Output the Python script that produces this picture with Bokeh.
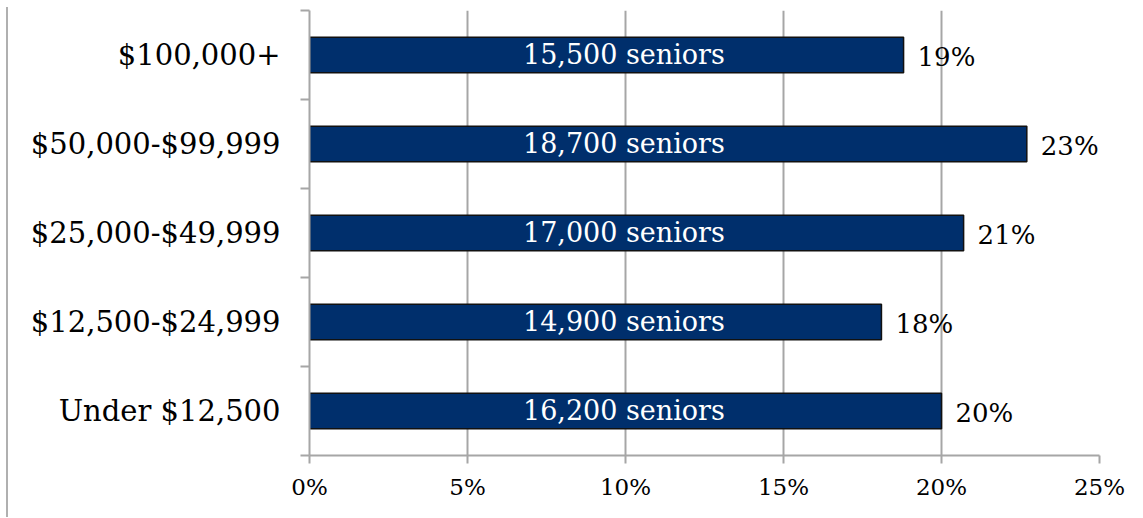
from bokeh.plotting import figure
from bokeh.models import ColumnDataSource, FixedTicker, NumeralTickFormatter, Range1d
from bokeh.embed import file_html
from bokeh.resources import INLINE
from bokeh.core.properties import value

# Data (bottom to top)
categories = ["Under $12,500", "$12,500-$24,999", "$25,000-$49,999", "$50,000-$99,999", "$100,000+"]
shares = [0.200, 0.181, 0.207, 0.227, 0.188]
pct_labels = ["20%", "18%", "21%", "23%", "19%"]
senior_labels = ["16,200 seniors", "14,900 seniors", "17,000 seniors", "18,700 seniors", "15,500 seniors"]
x_ticks = [0, 0.05, 0.10, 0.15, 0.20, 0.25]

FONT = "DejaVu Serif"
GRID = "#a6a6a6"

ypos = list(range(len(categories)))
src = ColumnDataSource(dict(y=ypos, share=shares, pct=pct_labels, sen=senior_labels,
                            mid=[0.0995] * len(categories)))

p = figure(width=1133, height=510, output_backend="svg", toolbar_location=None,
           x_range=Range1d(0, 0.25), y_range=Range1d(-0.5, len(categories) - 0.5),
           min_border_left=301, min_border_right=42, min_border_top=3, min_border_bottom=62)
p.styles = {"border-left": "2px solid #b0b0b0", "margin-left": "6px", "margin-top": "7px"}
p.outline_line_color = None
p.background_fill_color = "white"
p.border_fill_color = "white"

p.hbar(y="y", right="share", left=0, height=0.4, source=src,
       fill_color="#002F6C", line_color="#111111", line_width=1.5)

p.text(x="mid", y="y", text="sen", source=src, text_align="center", text_baseline="middle",
       text_color="white", text_font=value(FONT), text_font_size="27px", y_offset=-1)
p.text(x="share", y="y", text="pct", source=src, text_align="left", text_baseline="middle",
       text_color="black", text_font=value(FONT), text_font_size="26px", x_offset=14, y_offset=2)

# x axis
xa = p.xaxis[0]
xa.ticker = FixedTicker(ticks=x_ticks)
xa.formatter = NumeralTickFormatter(format="0%")
xa.axis_line_color = GRID
xa.axis_line_width = 2
xa.major_tick_line_color = GRID
xa.major_tick_line_width = 2
xa.major_tick_out = 8
xa.major_tick_in = 0
xa.minor_tick_line_color = None
xa.major_label_text_font = FONT
xa.major_label_text_font_size = "23px"
xa.major_label_text_color = "black"
xa.major_label_standoff = 10

# y axis
ya = p.yaxis[0]
ya.ticker = FixedTicker(ticks=ypos, minor_ticks=[i - 0.5 for i in range(len(categories) + 1)])
ya.major_label_overrides = {i: c for i, c in enumerate(categories)}
ya.axis_line_color = GRID
ya.axis_line_width = 2
ya.major_tick_line_color = None
ya.major_tick_out = 0
ya.major_tick_in = 0
ya.minor_tick_line_color = GRID
ya.minor_tick_line_width = 2
ya.minor_tick_out = 9
ya.minor_tick_in = 0
ya.major_label_text_font = FONT
ya.major_label_text_font_size = "29px"
ya.major_label_text_color = "black"
ya.major_label_standoff = 20

p.xgrid.ticker = FixedTicker(ticks=x_ticks[1:])
p.xgrid.grid_line_color = GRID
p.xgrid.grid_line_width = 2
p.ygrid.grid_line_color = None

open("out.html", "w").write(file_html(p, INLINE))
